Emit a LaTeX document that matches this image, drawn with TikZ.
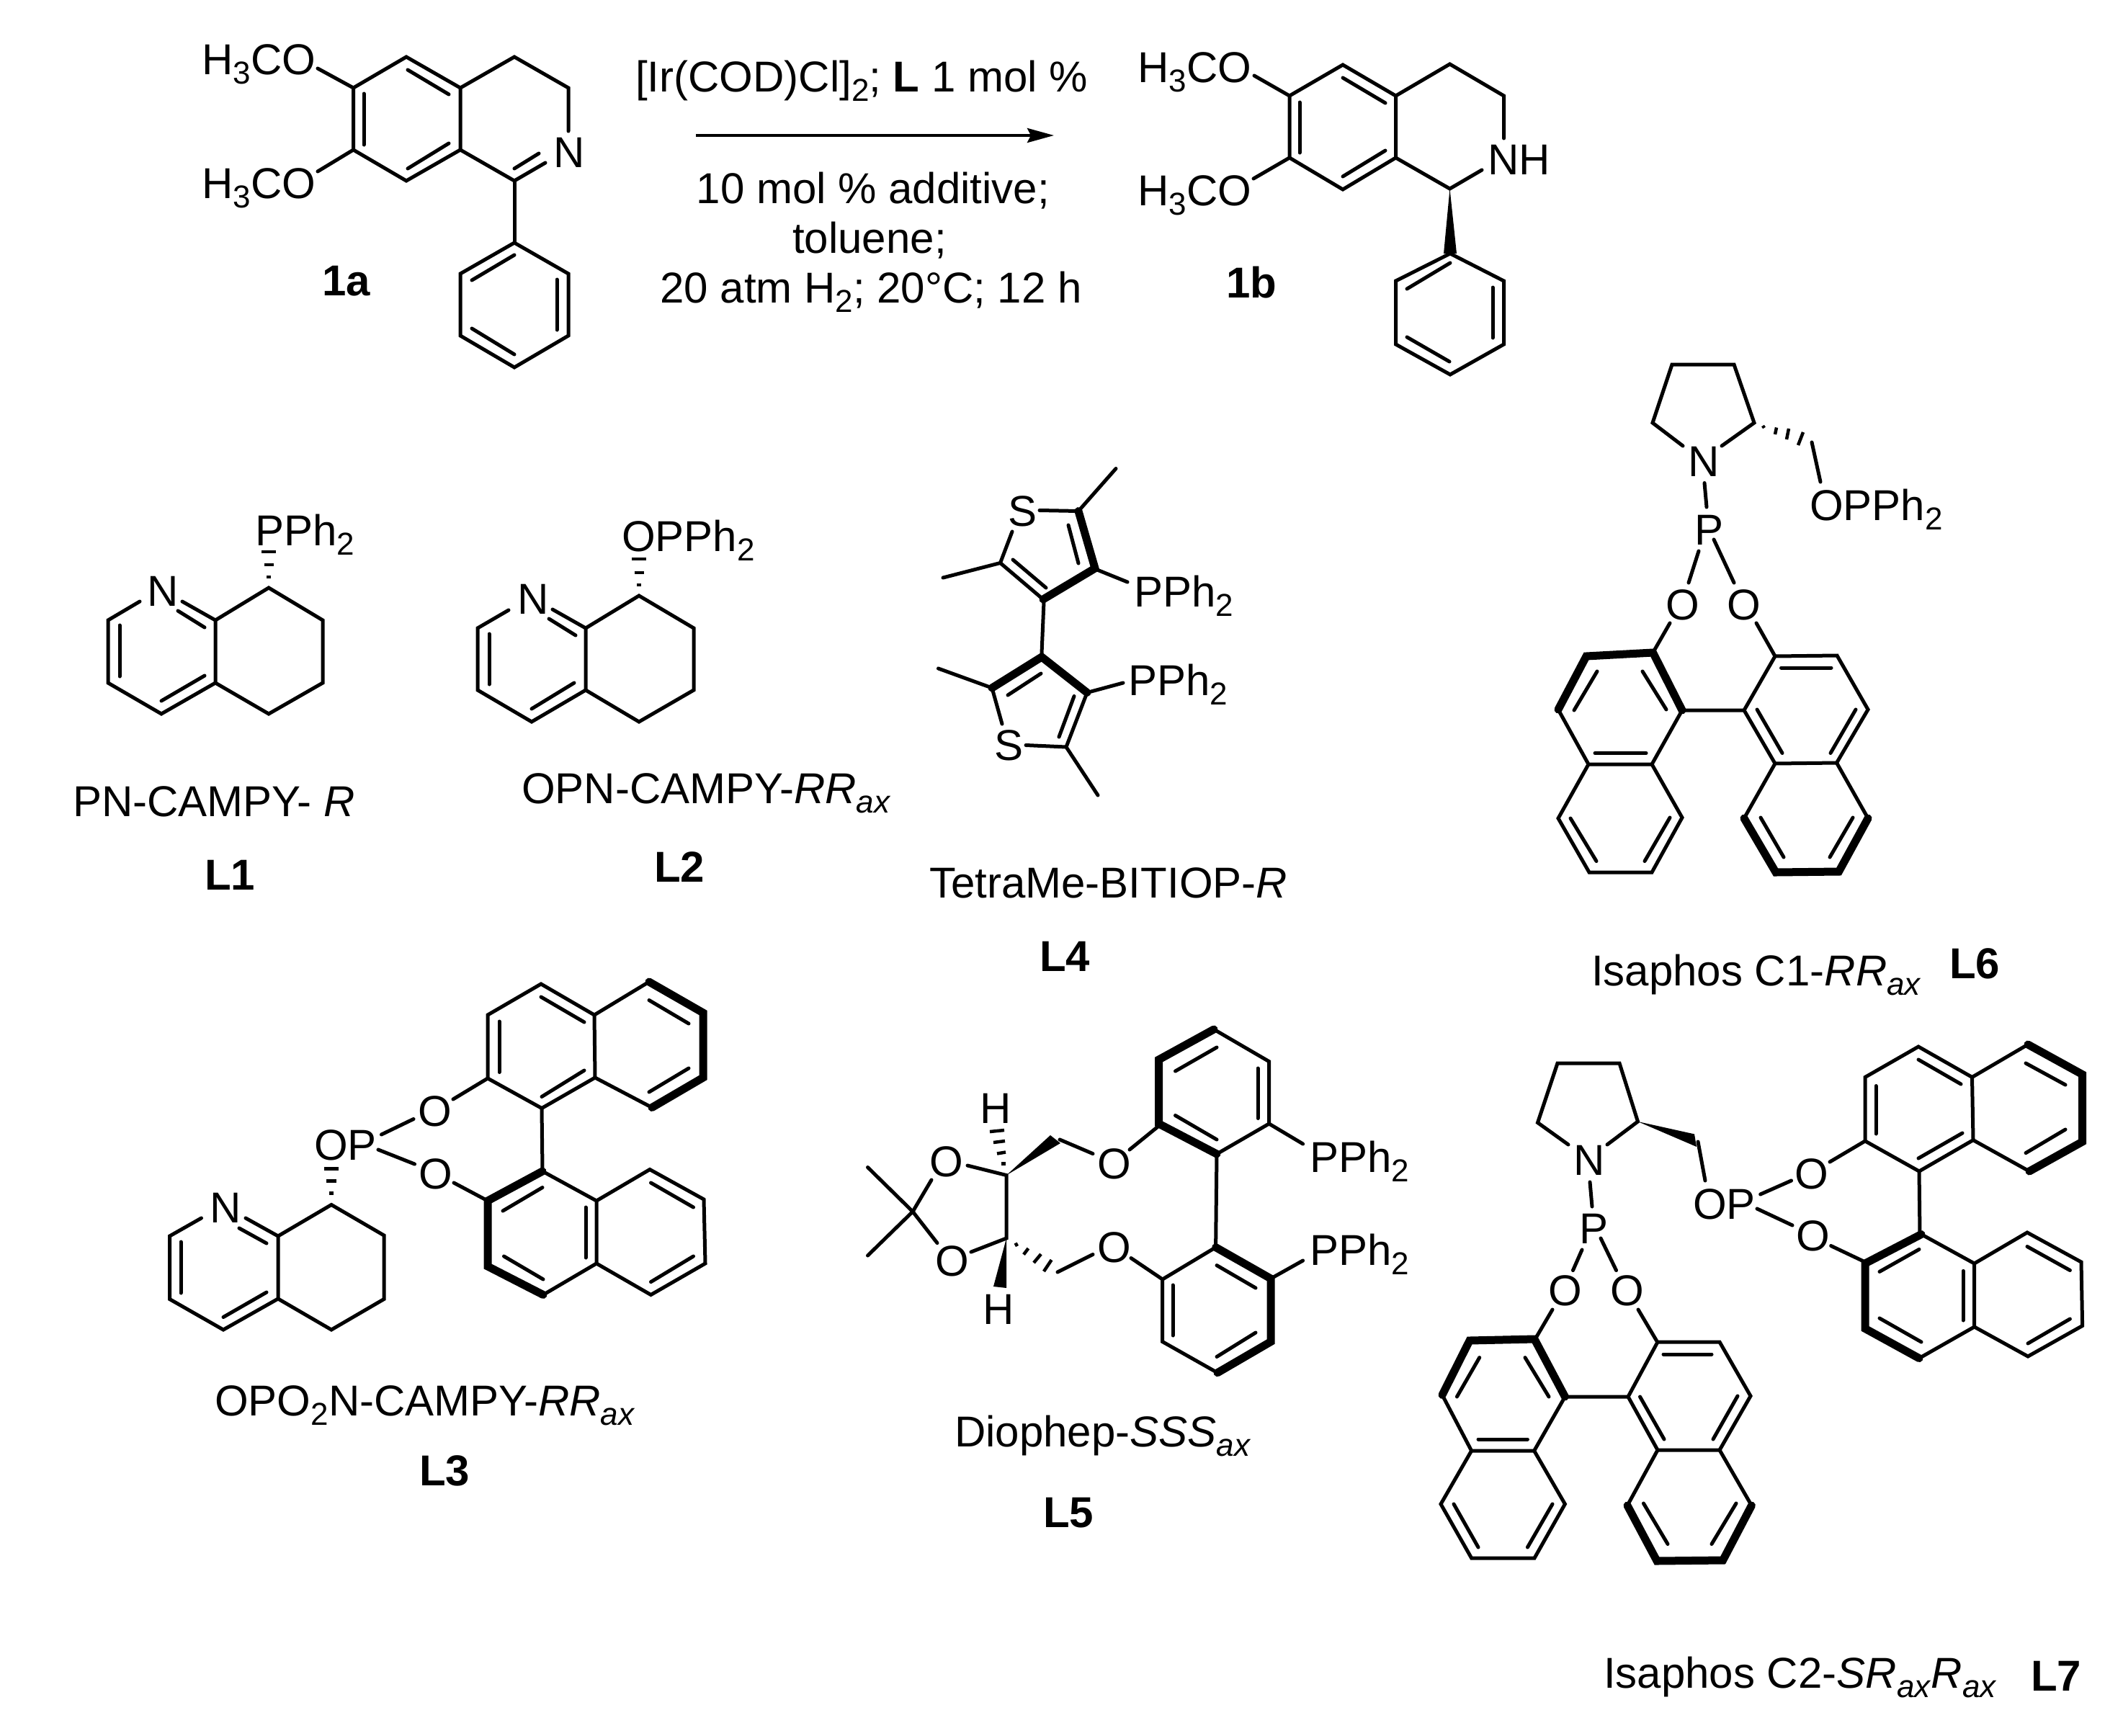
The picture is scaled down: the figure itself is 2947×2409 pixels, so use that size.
\documentclass[tikz,border=0pt]{standalone}
\usepackage{fontspec}
\usetikzlibrary{arrows.meta}
\setmainfont{Liberation Sans}
\newcommand{\sbt}[1]{\raisebox{-13pt}{\fontsize{44}{44}\selectfont #1}}
\tikzset{
	bond/.style={line width=5pt, line cap=round, line join=miter},
	boldbond/.style={line width=11pt, line cap=round, line join=miter},
	hashbar/.style={line width=4.5pt},
	atomtext/.style={inner sep=0pt, anchor=base west, font=\fontsize{60}{64}\selectfont},
	capttext/.style={inner sep=0pt, anchor=base, font=\fontsize{60}{64}\selectfont},
	tagtext/.style={inner sep=0pt, anchor=base west, font=\fontsize{60}{64}\selectfont\bfseries}
}
\begin{document}
\begin{tikzpicture}[x=1pt, y=-1pt]
	\useasboundingbox (0,0) rectangle (2947,2409);
	
	%1a's nodes
	\node (MeO1 a) at (280,103) [atomtext]{H\sbt{3}CO};
	\node (MeO2 a) at (280,275) [atomtext]{H\sbt{3}CO};
	\node (N a) at (768,232) [atomtext]{N};
	\node (tag 1a) at (447,410) [tagtext]{1a};
	
	%1a bonds
	\draw[bond] (564,79) -- (639,122) -- (639,208) -- (564,251) -- (490.5,208) -- (490.5,122) -- cycle;
	\draw[bond] (566,97) -- (623,131);
	\draw[bond] (623,199) -- (566,234);
	\draw[bond] (505,130) -- (505,201);
	\draw[bond] (441,95) -- (490.5,122);
	\draw[bond] (441,238) -- (490.5,208);
	\draw[bond] (639,122) -- (714,79) -- (789,122) -- (789,182);
	\draw[bond] (639,208) -- (714,251) -- (757,226);
	\draw[bond] (714,234) -- (748,213);
	\draw[bond] (714,251) -- (714,337);
	\draw[bond] (714,337) -- (789,380) -- (789,466) -- (714,510) -- (639,466) -- (639,380) -- cycle;
	\draw[bond] (714,354) -- (655,389);
	\draw[bond] (773,388) -- (773,458);
	\draw[bond] (655,456) -- (714,492);
	
	%reaction arrow
	\node (cond 1) at (1196,127) [capttext]{[Ir(COD)Cl]\sbt{2}; \textbf{L} 1 mol \%};
	\node (cond 2) at (1212,282) [capttext]{10 mol \% additive;};
	\node (cond 3) at (1207,351) [capttext]{toluene;};
	\node (cond 4) at (1209,420) [capttext]{20 atm H\sbt{2}; 20°C; 12 h};
	\coordinate (arrow start) at (966,188);
	\coordinate (arrow end) at (1463,188);
	\draw[-{Stealth[length=37pt, width=20pt, inset=5pt]}, line width=4pt] (arrow start) -- (arrow end);
	
	%1b's nodes
	\node (MeO1 b) at (1579,114) [atomtext]{H\sbt{3}CO};
	\node (MeO2 b) at (1579,285) [atomtext]{H\sbt{3}CO};
	\node (NH b) at (2065,242) [atomtext]{NH};
	\node (tag 1b) at (1702,413) [tagtext]{1b};
	
	%1b bonds
	\draw[bond] (1864,90) -- (1937.5,133) -- (1937.5,219) -- (1864,263) -- (1790,219) -- (1790,133) -- cycle;
	\draw[bond] (1864,108) -- (1923,143);
	\draw[bond] (1923,209) -- (1864,245);
	\draw[bond] (1804,142) -- (1804,212);
	\draw[bond] (1741,105) -- (1790,133);
	\draw[bond] (1740,248) -- (1790,219);
	\draw[bond] (1937.5,133) -- (2012.5,89) -- (2087.5,133) -- (2087.5,192);
	\draw[bond] (1937.5,219) -- (2012.5,262) -- (2057,236);
	\fill (2012.5,262) -- (2022,352) -- (2004,352) -- cycle;
	\draw[bond] (2013,352) -- (2087.5,390) -- (2087.5,478) -- (2013,520) -- (1937.5,478) -- (1937.5,390) -- cycle;
	\draw[bond] (2013,365) -- (1953,401);
	\draw[bond] (2072,399) -- (2072,469);
	\draw[bond] (1953,468) -- (2012,502);
	
	%L1's nodes
	\node (N 1) at (204,841) [atomtext]{N};
	\node (PPh2 1) at (354,757) [atomtext]{PPh\sbt{2}};
	\node (name 1) at (101,1133) [atomtext]{PN-CAMPY- \textit{R}};
	\node (tag L1) at (284,1235) [tagtext]{L1};
	
	%L1 bonds
	\draw[bond] (194,835) -- (150,861) -- (150,948) -- (224,991) -- (299,948) -- (299,861) -- (253,835);
	\draw[bond] (247,848) -- (284,871);
	\draw[bond] (166,868) -- (166,939);
	\draw[bond] (224,973) -- (284,938);
	\draw[bond] (299,861) -- (373,816) -- (448,861) -- (448,948) -- (373,991) -- (299,948);
	\draw[hashbar] (370,801) -- (376,801);
	\draw[hashbar] (366.5,784) -- (379.5,784);
	\draw[hashbar] (363,766) -- (383,766);
	
	%L2's nodes
	\node (N 2) at (718,852) [atomtext]{N};
	\node (OPPh2 2) at (863,765) [atomtext]{OPPh\sbt{2}};
	\node (name 2) at (724,1115) [atomtext]{OPN-CAMPY-\textit{RR}\sbt{\textit{ax}}};
	\node (tag L2) at (908,1224) [tagtext]{L2};
	
	%L2 bonds
	\draw[bond] (706,847) -- (663,872) -- (663,958) -- (738,1002) -- (813,958) -- (813,872) -- (767,846);
	\draw[bond] (762,859) -- (799,882);
	\draw[bond] (679,880) -- (679,950);
	\draw[bond] (738,984) -- (797,948);
	\draw[bond] (813,872) -- (887,827) -- (963,872) -- (963,958) -- (887,1002) -- (813,958);
	\draw[hashbar] (884,812) -- (890,812);
	\draw[hashbar] (880.5,795) -- (893.5,795);
	\draw[hashbar] (877,776) -- (897,776);
	
	%L4's nodes
	\node (S1 4) at (1399,730) [atomtext]{S};
	\node (S2 4) at (1380,1055) [atomtext]{S};
	\node (PPh2a 4) at (1574,842) [atomtext]{PPh\sbt{2}};
	\node (PPh2b 4) at (1566,965) [atomtext]{PPh\sbt{2}};
	\node (name 4) at (1290,1246) [atomtext]{TetraMe-BITIOP-\textit{R}};
	\node (tag L4) at (1443,1348) [tagtext]{L4};
	
	%L4 bonds
	\draw[bond] (1443,708.5) -- (1497,709.5) -- (1549,650.5);
	\draw[boldbond] (1497,709.5) -- (1520,789) -- (1448,832);
	\draw[bond] (1483,729) -- (1497,782);
	\draw[bond] (1448,832) -- (1388.5,781.5) -- (1405,738);
	\draw[bond] (1388.5,781.5) -- (1309,802);
	\draw[bond] (1452,816) -- (1406,777);
	\draw[bond] (1523,791) -- (1565,808);
	\draw[bond] (1449,835.5) -- (1446,907);
	\draw[boldbond] (1377,955) -- (1446,912) -- (1509,961.5);
	\draw[bond] (1302.5,928) -- (1377,955) -- (1391,1005);
	\draw[bond] (1445,935) -- (1399,965);
	\draw[bond] (1509,961.5) -- (1480,1037) -- (1424,1034.5);
	\draw[bond] (1480,1037) -- (1524,1104);
	\draw[bond] (1491,966.5) -- (1470,1023);
	\draw[bond] (1509,961.5) -- (1559,948);
	
	%L6's nodes
	\node (N 6) at (2343,661) [atomtext]{N};
	\node (P 6) at (2352,756) [atomtext]{P};
	\node (OPPh2 6) at (2512,722) [atomtext]{OPPh\sbt{2}};
	\node (O1 6) at (2312,860) [atomtext]{O};
	\node (O2 6) at (2397,860) [atomtext]{O};
	\node (name 6) at (2209,1368) [atomtext]{Isaphos C1-\textit{RR}\sbt{\textit{ax}}};
	\node (tag L6) at (2706,1358) [tagtext]{L6};
	
	%L6 bonds
	\draw[bond] (2336,619) -- (2294,587) -- (2321,506) -- (2407,506) -- (2435,587) -- (2390,619);
	\draw[hashbar] (2447,591) -- (2449,594);
	\draw[hashbar] (2466,593.5) -- (2464,603);
	\draw[hashbar] (2483,595) -- (2480,610);
	\draw[hashbar] (2503,600) -- (2496,618);
	\draw[bond] (2515,614) -- (2527,669);
	\draw[bond] (2366,670.5) -- (2369,704);
	\draw[bond] (2358,765) -- (2344,809);
	\draw[bond] (2379,749) -- (2407,809);
	\draw[bond] (2318,865) -- (2294.5,906);
	\draw[bond] (2438,865) -- (2464,911);
	\draw[boldbond] (2335,986) -- (2294.5,906) -- (2202,911) -- (2163,985);
	\draw[bond] (2163,985) -- (2205,1061) -- (2293,1061) -- (2335,986) -- (2421,986);
	\draw[bond] (2217,932) -- (2185,986);
	\draw[bond] (2280,932) -- (2313,985);
	\draw[bond] (2214,1045.5) -- (2285,1045.5);
	\draw[bond] (2205,1061) -- (2163,1136) -- (2206,1211) -- (2293,1211) -- (2335,1135) -- (2293,1061);
	\draw[bond] (2180,1136) -- (2216,1195.5);
	\draw[bond] (2283,1195.5) -- (2318,1135);
	\draw[bond] (2464,911) -- (2550,910) -- (2593,985) -- (2549.5,1059) -- (2464,1060) -- (2421,986) -- cycle;
	\draw[bond] (2472.5,927) -- (2542,927);
	\draw[bond] (2576,985) -- (2541,1045.5);
	\draw[bond] (2439,985) -- (2474,1045.5);
	\draw[bond] (2464,1060) -- (2421,1136);
	\draw[bond] (2549.5,1059) -- (2593,1136);
	\draw[boldbond] (2421,1136) -- (2465,1211) -- (2552.5,1210) -- (2593,1136);
	\draw[bond] (2444,1135) -- (2476,1190);
	\draw[bond] (2572,1135) -- (2540,1190);
	
	%L3's nodes
	\node (N 3) at (291,1697) [atomtext]{N};
	\node (OP 3) at (436,1610) [atomtext]{OP};
	\node (O1 3) at (580,1563) [atomtext]{O};
	\node (O2 3) at (581,1650) [atomtext]{O};
	\node (name 3) at (298,1965) [atomtext]{OPO\sbt{2}N-CAMPY-\textit{RR}\sbt{\textit{ax}}};
	\node (tag L3) at (582,2062) [tagtext]{L3};
	
	%L3 bonds
	\draw[bond] (279.5,1691) -- (235.5,1716) -- (235.5,1803.5) -- (310,1846) -- (386,1803) -- (386,1716) -- (341,1691);
	\draw[bond] (332,1705) -- (370,1726);
	\draw[bond] (251,1724) -- (251,1795);
	\draw[bond] (310,1828.5) -- (370,1794);
	\draw[bond] (386,1716) -- (460,1672.5) -- (533,1715) -- (533,1803.5) -- (460,1846) -- (386,1803);
	\draw[hashbar] (457,1656.4) -- (463,1656.4);
	\draw[hashbar] (453,1639.6) -- (467,1639.6);
	\draw[hashbar] (450,1622.5) -- (470,1622.5);
	\draw[bond] (529.5,1575) -- (574,1553.5);
	\draw[bond] (525,1596) -- (575.5,1616);
	\draw[bond] (629,1526) -- (677,1497);
	\draw[bond] (630,1642) -- (677,1667);
	\draw[bond] (677,1497) -- (677,1409) -- (751,1366) -- (825,1409) -- (826,1496) -- (752,1538.5) -- cycle;
	\draw[bond] (693,1418) -- (693,1488.5);
	\draw[bond] (751,1384) -- (811,1419);
	\draw[bond] (752,1522.5) -- (811,1486);
	\draw[bond] (825,1409) -- (901,1363);
	\draw[boldbond] (901,1363) -- (976,1406) -- (976,1496) -- (905,1537.5);
	\draw[bond] (905,1537.5) -- (826,1496);
	\draw[bond] (901,1388.5) -- (956,1421);
	\draw[bond] (956,1483) -- (901,1516);
	\draw[bond] (752,1538.5) -- (753,1624);
	\draw[boldbond] (753,1626) -- (677,1667) -- (677,1758) -- (754,1797.5);
	\draw[bond] (754,1797.5) -- (828,1754) -- (828,1667) -- (753,1626);
	\draw[bond] (753,1648.5) -- (698,1681);
	\draw[bond] (699.5,1744) -- (754,1776);
	\draw[bond] (813,1676) -- (813,1746);
	\draw[bond] (828,1667) -- (902,1623.5) -- (977,1665) -- (979,1754) -- (903.5,1797.5) -- (828,1754);
	\draw[bond] (903.5,1642) -- (962.5,1676);
	\draw[bond] (962.5,1744) -- (903.5,1779.6);
	
	%L5's nodes
	\node (H1 5) at (1360,1559) [atomtext]{H};
	\node (H2 5) at (1364,1838) [atomtext]{H};
	\node (O1 5) at (1290,1633) [atomtext]{O};
	\node (O2 5) at (1298,1771) [atomtext]{O};
	\node (O3 5) at (1523,1636) [atomtext]{O};
	\node (O4 5) at (1523,1752) [atomtext]{O};
	\node (PPh2a 5) at (1818,1627) [atomtext]{PPh\sbt{2}};
	\node (PPh2b 5) at (1818,1756) [atomtext]{PPh\sbt{2}};
	\node (name 5) at (1325,2008) [atomtext]{Diophep-\textit{SSS}\sbt{\textit{ax}}};
	\node (tag L5) at (1448,2120) [tagtext]{L5};
	
	%L5 bonds
	\draw[boldbond] (1685,1429) -- (1608.6,1471) -- (1608.6,1560) -- (1689,1602);
	\draw[bond] (1685,1429) -- (1761.6,1473.6) -- (1761.6,1560) -- (1689,1602);
	\draw[bond] (1631.5,1487) -- (1689,1454);
	\draw[bond] (1746,1483) -- (1746,1552.5);
	\draw[bond] (1631.5,1548.5) -- (1689,1582);
	\draw[bond] (1761.6,1560) -- (1808.6,1588);
	\draw[bond] (1608.6,1563) -- (1568,1596);
	\draw[bond] (1517,1601.6) -- (1471,1582);
	\fill (1397,1631.5) -- (1458,1576) -- (1472,1587) -- cycle;
	\draw[hashbar] (1390,1615.5) -- (1396,1615.5);
	\draw[hashbar] (1384,1601.5) -- (1396,1599.5);
	\draw[hashbar] (1379,1586) -- (1395,1584);
	\draw[hashbar] (1374,1571) -- (1394,1569);
	\draw[bond] (1343,1618) -- (1397,1631.5) -- (1397,1719) -- (1348,1738);
	\draw[bond] (1293,1638) -- (1267,1682) -- (1301,1725.6);
	\draw[bond] (1204.5,1620.5) -- (1267,1682) -- (1204.5,1743);
	\fill (1397,1719) -- (1397,1788) -- (1379,1786) -- cycle;
	\draw[hashbar] (1409.6,1725.6) -- (1412,1730);
	\draw[hashbar] (1427.4,1733) -- (1421,1741.6);
	\draw[hashbar] (1445,1741) -- (1435,1753);
	\draw[hashbar] (1459.6,1749) -- (1449,1765);
	\draw[bond] (1468,1766) -- (1517,1741.5);
	\draw[bond] (1570,1746.5) -- (1613.7,1776);
	\draw[bond] (1689,1602) -- (1687.6,1731.6);
	\draw[bond] (1764,1775) -- (1808.6,1750);
	\draw[boldbond] (1687.6,1731.6) -- (1764,1775) -- (1764,1862.6) -- (1690,1905.7);
	\draw[bond] (1690,1905.7) -- (1613.7,1862.6) -- (1613.7,1776) -- (1687.6,1731.6);
	\draw[bond] (1689,1756.6) -- (1743,1788);
	\draw[bond] (1628,1784) -- (1628,1854);
	\draw[bond] (1689,1883.5) -- (1743,1850);
	
	%L7's nodes
	\node (N 7) at (2184,1631) [atomtext]{N};
	\node (P 7) at (2192,1726) [atomtext]{P};
	\node (OP 7) at (2350,1692) [atomtext]{OP};
	\node (O1 7) at (2491,1650) [atomtext]{O};
	\node (O2 7) at (2493,1736) [atomtext]{O};
	\node (O3 7) at (2149,1812) [atomtext]{O};
	\node (O4 7) at (2235,1812) [atomtext]{O};
	\node (name 7) at (2226,2343) [atomtext]{Isaphos C2-\textit{SR}\sbt{\textit{ax}}\textit{R}\sbt{\textit{ax}}};
	\node (tag L7) at (2819,2347) [tagtext]{L7};
	
	%L7 bonds
	\draw[bond] (2177,1589) -- (2134.5,1558.5) -- (2162,1476) -- (2248,1476) -- (2273.5,1557) -- (2231,1589);
	\fill (2273.5,1557) -- (2352,1574.4) -- (2355,1592) -- cycle;
	\draw[bond] (2357,1585) -- (2367,1639);
	\draw[bond] (2443.6,1658) -- (2486.5,1639);
	\draw[bond] (2439,1678) -- (2488,1701);
	\draw[bond] (2540,1613) -- (2589,1584);
	\draw[bond] (2541.6,1729.5) -- (2589,1752);
	\draw[bond] (2589,1584) -- (2589,1495.4) -- (2663,1453) -- (2737.5,1495.4) -- (2739,1582.7) -- (2664,1626) -- cycle;
	\draw[bond] (2604,1507.5) -- (2604,1574);
	\draw[bond] (2663,1471) -- (2722,1505);
	\draw[bond] (2663,1608) -- (2724,1573);
	\draw[bond] (2737.5,1495.4) -- (2815,1450);
	\draw[boldbond] (2815,1450) -- (2890.6,1491.6) -- (2890.6,1585) -- (2817,1626);
	\draw[bond] (2817,1626) -- (2739,1582.7);
	\draw[bond] (2812,1476) -- (2867,1506);
	\draw[bond] (2867,1568) -- (2812,1600.6);
	\draw[bond] (2664,1626) -- (2665,1713.5);
	\draw[boldbond] (2667,1713.5) -- (2589,1754) -- (2589,1844.4) -- (2664,1885.6);
	\draw[bond] (2664,1885.6) -- (2740.6,1842) -- (2740.6,1754) -- (2667,1713.5);
	\draw[bond] (2664,1734.4) -- (2609,1765.4);
	\draw[bond] (2609,1830) -- (2667,1863);
	\draw[bond] (2725,1764.4) -- (2725,1833);
	\draw[bond] (2740.6,1754) -- (2814,1711) -- (2889,1752) -- (2890.6,1840.5) -- (2815,1883) -- (2740.6,1842);
	\draw[bond] (2814,1730.5) -- (2873.4,1763.5);
	\draw[bond] (2873.4,1831) -- (2815,1865);
	\draw[bond] (2207,1641) -- (2210,1675);
	\draw[bond] (2196,1735) -- (2183.5,1763.5);
	\draw[bond] (2222,1719) -- (2243.5,1763.5);
	\draw[bond] (2155,1818) -- (2131,1859);
	\draw[bond] (2274,1818) -- (2300,1862);
	\draw[boldbond] (2172.4,1939) -- (2130,1859) -- (2040,1861) -- (2002,1936.5);
	\draw[bond] (2002,1936.5) -- (2042.6,2014) -- (2129.6,2014) -- (2172.4,1939) -- (2260,1939);
	\draw[bond] (2053.7,1884.6) -- (2022.4,1939);
	\draw[bond] (2117,1884.6) -- (2150,1939);
	\draw[bond] (2052,1998) -- (2120.4,1998);
	\draw[bond] (2042.6,2014) -- (2000,2088) -- (2042.6,2163) -- (2130,2163) -- (2172.4,2088) -- (2129.6,2014);
	\draw[bond] (2018,2088) -- (2052,2148);
	\draw[bond] (2120.4,2148) -- (2155,2088);
	\draw[bond] (2301,1863) -- (2387,1863) -- (2430,1938) -- (2387,2013) -- (2301,2013) -- (2260,1939) -- cycle;
	\draw[bond] (2309,1880) -- (2376,1880);
	\draw[bond] (2412,1938) -- (2378,1998);
	\draw[bond] (2276.5,1939) -- (2310,1998);
	\draw[bond] (2301,2013) -- (2259,2090);
	\draw[bond] (2387,2013) -- (2431.4,2090);
	\draw[boldbond] (2259,2090) -- (2300,2167) -- (2391.6,2166) -- (2431.4,2090);
	\draw[bond] (2281.4,2087) -- (2315,2143.5);
	\draw[bond] (2410,2087) -- (2376,2143.5);
	
\end{tikzpicture}
\end{document}
